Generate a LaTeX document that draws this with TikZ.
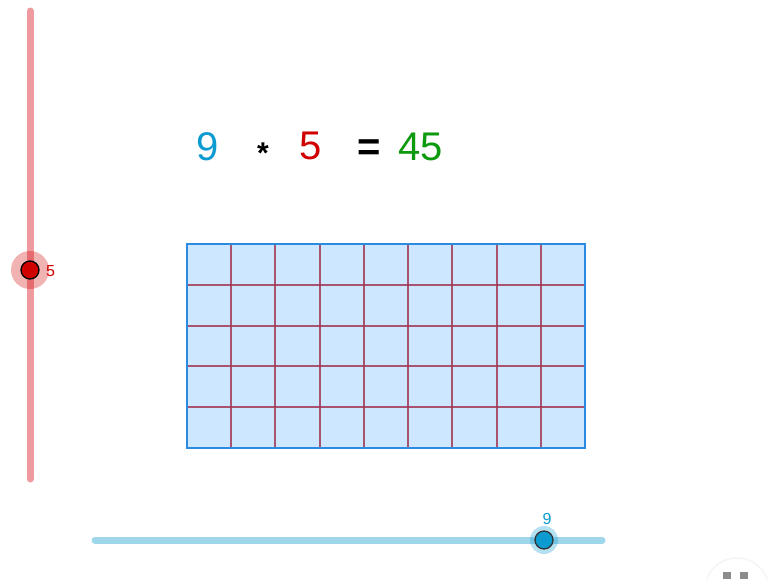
\documentclass[tikz,border=0pt]{standalone}
\usepackage{fontspec}
\setmainfont{Liberation Sans}
\begin{document}
\begin{tikzpicture}[x=1pt,y=-1pt,
  eqtext/.style={font=\fontsize{40}{44}\selectfont,inner sep=0pt},
  slabel/.style={font=\fontsize{16}{18}\selectfont,inner sep=0pt}
]
\definecolor{gblue}{HTML}{0B9BD1}
\definecolor{gred}{HTML}{D10000}
\definecolor{ggreen}{HTML}{0E9A0E}
\definecolor{gridfill}{HTML}{CCE7FF}
\definecolor{gridborder}{HTML}{2B8BE0}
\definecolor{gridline}{HTML}{A23A56}
\definecolor{hslider}{HTML}{9ED6EA}
\definecolor{vslider}{HTML}{EE9A9E}
\useasboundingbox (0,0) rectangle (784,579);
\fill[white] (0,0) rectangle (784,579);
% vertical slider
\coordinate (vtop) at (30,11);
\coordinate (vbot) at (30,479);
\draw[line width=7pt,line cap=round,draw=vslider] (vtop) -- (vbot);
\node[circle,minimum size=38pt,inner sep=0pt,fill=gred,opacity=0.3] (vhalo) at (30,270) {};
\node[circle,minimum size=18pt,inner sep=0pt,fill=gred,draw=black,line width=1.3pt] (vpt) at (30,270) {};
\node[slabel,text=gred,anchor=west] (vlab) at (46,271) {5};
% horizontal slider
\coordinate (hl) at (95,540);
\coordinate (hr) at (602,540);
\draw[line width=7pt,line cap=round,draw=hslider] (hl) -- (hr);
\node[circle,minimum size=28pt,inner sep=0pt,fill=gblue,opacity=0.3] (hhalo) at (544,540) {};
\node[circle,minimum size=18pt,inner sep=0pt,fill=gblue,draw=black!80,line width=1.3pt] (hpt) at (544,540) {};
\node[slabel,text=gblue] (hlab) at (547,519) {9};
% equation
\node[eqtext,text=gblue] (a) at (208,147) {9};
\node[inner sep=0pt,text=black,font=\bfseries\fontsize{30}{32}\selectfont] (star) at (263,153) {*};
\node[eqtext,text=gred] (b) at (311,146) {5};
\node[eqtext,text=black,font=\bfseries\fontsize{40}{44}\selectfont] (eq) at (369,150) {=};
\node[eqtext,text=ggreen] (c) at (421,147) {45};
% grid
\fill[gridfill] (187,244) rectangle (585,448);
\foreach \i in {1,...,8} {
  \draw[gridline,line width=2pt,opacity=0.85] ({187+\i*398/9},244) -- ({187+\i*398/9},448);
}
\foreach \j in {1,...,4} {
  \draw[gridline,line width=2pt,opacity=0.85] (187,{244+\j*204/5}) -- (585,{244+\j*204/5});
}
\draw[gridborder,line width=2pt] (187,244) rectangle (585,448);
% corner button
\begin{scope}
\clip (690,545) rectangle (784,579);
\draw[black!4,line width=1.5pt] (737,590) circle (32);
\fill[black!45] (723,572) rectangle (731,579);
\fill[black!45] (740,572) rectangle (748,579);
\end{scope}
\end{tikzpicture}
\end{document}
